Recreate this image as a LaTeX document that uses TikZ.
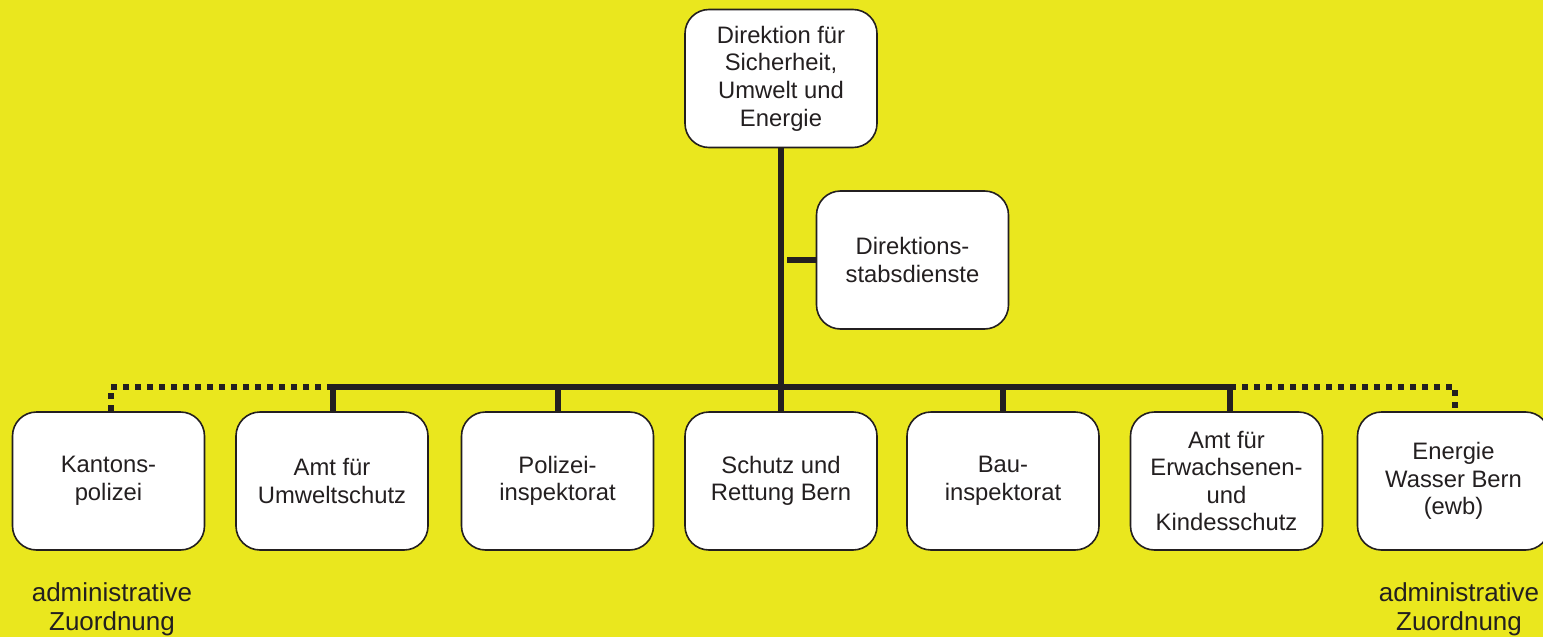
\documentclass[tikz,border=0pt]{standalone}
\usepackage{fontspec}
\setmainfont{Liberation Sans}
\definecolor{bgyellow}{RGB}{234,231,30}
\definecolor{ink}{RGB}{35,31,32}
\begin{document}
\begin{tikzpicture}[x=0.5pt,y=-0.5pt,
  orgbox/.style={draw=ink,fill=white,line width=0.8pt,rounded corners=12pt,
    minimum width=96pt,minimum height=69pt,align=center,text=ink,
    font=\fontsize{11.9}{13.8}\selectfont,inner sep=2pt},
  bus/.style={draw=ink,line width=3pt},
  dotbus/.style={draw=ink,line width=3pt,dash pattern=on 3pt off 3pt},
  note/.style={align=center,text=ink,font=\fontsize{13}{14.6}\selectfont}]
\fill[bgyellow] (0,0) rectangle (1543,637);
\useasboundingbox (0,0) rectangle (1543,637);
\node[orgbox] (dir) at (781,78.5) {Direktion für\\Sicherheit,\\Umwelt und\\Energie};
\node[orgbox] (stab) at (912.5,260) {Direktions-\\stabsdienste};
\node[orgbox] (kapo) at (108.5,481) {Kantons-\\polizei};
\node[orgbox] (afu) at (332,481) {Amt für\\Umweltschutz};
\node[orgbox] (pol) at (557.5,481) {Polizei-\\inspektorat};
\node[orgbox] (sur) at (781,481) {Schutz und\\Rettung Bern};
\node[orgbox] (bau) at (1003,481) {Bau-\\inspektorat};
\node[orgbox] (kes) at (1226.5,481) {Amt für\\Erwachsenen-\\und\\Kindesschutz};
\node[orgbox] (ewb) at (1453.5,481) {Energie\\Wasser Bern\\(ewb)};
\coordinate (busL) at (333,387);
\coordinate (busR) at (1230,387);
\coordinate (busM) at (781,387);
\coordinate (stabJ) at (787,261);
% main spine
\draw[bus] (dir.south) -- (busM);
\draw[bus] (stabJ |- stab.west) -- (stab.west);
% solid bus
\draw[bus] ([xshift=-1.5pt]busL) -- ([xshift=1.5pt]busR);
\draw[bus] (busL) -- (busL |- afu.north);
\draw[bus] (busM -| pol.north) -- (pol.north);
\draw[bus] (busM) -- (sur.north);
\draw[bus] (busM -| bau.north) -- (bau.north);
\draw[bus] (busR) -- (busR |- kes.north);
% dotted parts
\coordinate (dL) at (111,387);
\coordinate (dR) at (1455,387);
\draw[dotbus] (busL) -- (dL) -- (dL |- kapo.north);
\draw[dotbus] (busR) -- (dR) -- (dR |- ewb.north);
% notes
\node[note] (nL) at (112,609) {administrative\\Zuordnung};
\node[note] (nR) at (1459,609) {administrative\\Zuordnung};
\end{tikzpicture}
\end{document}
